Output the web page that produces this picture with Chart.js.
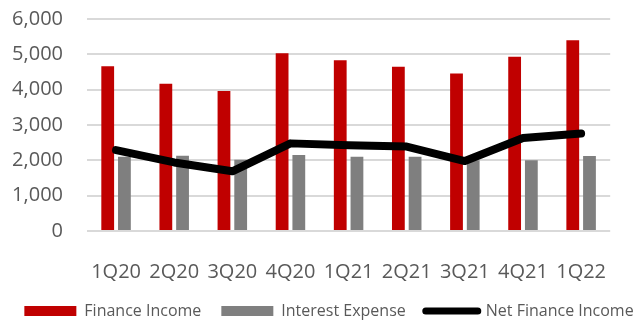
<!DOCTYPE html>
<html>
<head>
<meta charset="utf-8">
<script src="https://cdn.jsdelivr.net/npm/chart.js@4"></script>
<style>
  html, body { margin: 0; padding: 0; background: #fff; }
  #wrap { width: 636px; height: 320px; }
</style>
</head>
<body>
<div id="wrap"><canvas id="chart"></canvas></div>
<script>
const quarters = ['1Q20', '2Q20', '3Q20', '4Q20', '1Q21', '2Q21', '3Q21', '4Q21', '1Q22'];
const financeIncome = [4660, 4170, 3960, 5030, 4830, 4650, 4460, 4930, 5400];
const interestExpense = [2100, 2130, 2020, 2150, 2100, 2100, 2000, 2000, 2120];
const netFinanceIncome = [2290, 1940, 1690, 2480, 2430, 2390, 1980, 2630, 2760];
const yTicks = [0, 1000, 2000, 3000, 4000, 5000, 6000];

const axisGrey = '#595959';
const fontFamily = '"Open Sans", sans-serif';
const legendOrder = ['Finance Income', 'Interest Expense', 'Net Finance Income'];

const ctx = document.getElementById('chart');

new Chart(ctx, {
    data: {
        labels: quarters,
        datasets: [
            {
                type: 'line',
                label: 'Net Finance Income',
                data: netFinanceIncome,
                borderColor: '#000000',
                backgroundColor: '#000000',
                borderWidth: 8,
                borderCapStyle: 'round',
                borderJoinStyle: 'round',
                pointRadius: 0,
                tension: 0,
                order: 0
            },
            {
                type: 'bar',
                label: 'Finance Income',
                data: financeIncome,
                backgroundColor: '#c00000',
                barPercentage: 0.765,
                categoryPercentage: 0.575,
                order: 1
            },
            {
                type: 'bar',
                label: 'Interest Expense',
                data: interestExpense,
                backgroundColor: '#7f7f7f',
                barPercentage: 0.765,
                categoryPercentage: 0.575,
                order: 1
            }
        ]
    },
    options: {
        responsive: true,
        maintainAspectRatio: false,
        animation: false,
        // legend row is a bit wider than the canvas allows by default,
        // so the right side is padded negatively and the plot is held in by the spacer axis
        layout: {
            padding: { left: 0, right: -22, top: 19, bottom: -9 }
        },
        scales: {
            x: {
                afterFit: (axis) => { axis.height = 52; },
                grid: { display: false, drawTicks: false },
                border: { display: false },
                ticks: {
                    color: axisGrey,
                    font: { family: fontFamily, size: 20 },
                    maxRotation: 0,
                    autoSkip: false,
                    padding: 29
                }
            },
            y: {
                min: 0,
                max: 6000,
                afterBuildTicks: (axis) => {
                    axis.ticks = yTicks.map(v => ({ value: v }));
                },
                // fixed width; tick padding would otherwise also push the plot top down
                afterFit: (axis) => {
                    axis.width = 87;
                    axis.paddingTop = 0;
                    axis.paddingBottom = 0;
                },
                grid: { color: '#d9d9d9', lineWidth: 2, drawTicks: false },
                border: { display: false },
                ticks: {
                    color: axisGrey,
                    font: { family: fontFamily, size: 20 },
                    padding: 24,
                    callback: (v) => v.toLocaleString('en-US')
                }
            },
            spacer: {
                type: 'linear',
                position: 'right',
                grid: { display: false, drawTicks: false },
                border: { display: false },
                ticks: { display: false },
                afterFit: (axis) => { axis.width = 39; }
            }
        },
        plugins: {
            tooltip: { enabled: false },
            legend: {
                position: 'bottom',
                labels: {
                    color: axisGrey,
                    font: { family: fontFamily, size: 16 },
                    usePointStyle: true,
                    pointStyleWidth: 52,
                    boxHeight: 10,
                    padding: 20,
                    // bars get flat swatches, the net line a thick rounded stroke
                    generateLabels: (chart) => {
                        const items = Chart.defaults.plugins.legend.labels.generateLabels(chart);
                        items.forEach(item => {
                            if (item.text === 'Net Finance Income') {
                                item.pointStyle = 'line';
                                item.lineWidth = 7;
                                item.lineCap = 'round';
                                item.strokeStyle = '#000000';
                            } else {
                                item.pointStyle = 'rect';
                                item.lineWidth = 0;
                            }
                        });
                        return items.sort((a, b) => legendOrder.indexOf(a.text) - legendOrder.indexOf(b.text));
                    }
                }
            }
        }
    }
});
</script>
</body>
</html>
